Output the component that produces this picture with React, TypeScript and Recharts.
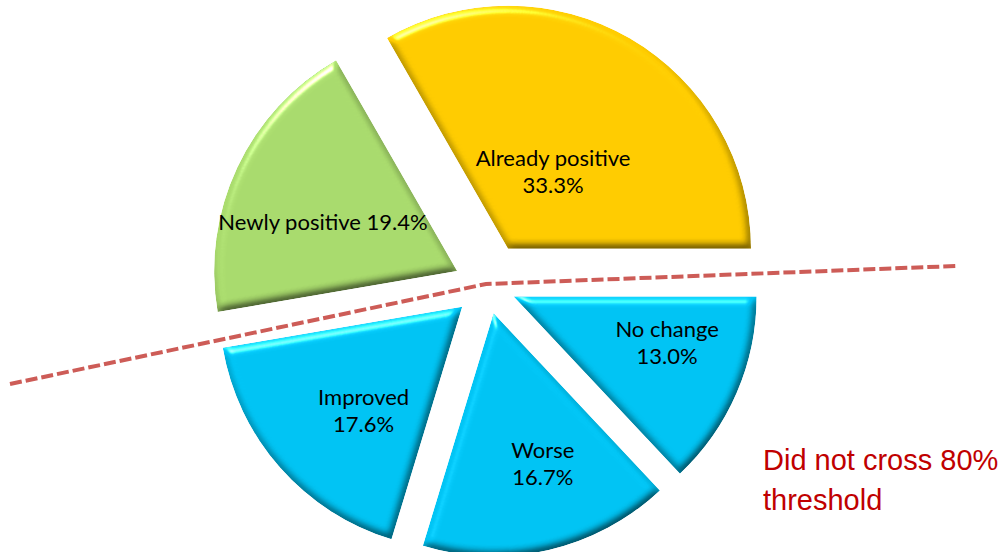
import React from 'react';
import { PieChart, Pie, Cell, Sector } from 'recharts';

// ---- data ----
const categories = ['Already positive', 'Newly positive', 'Improved', 'Worse', 'No change'];
const shares = [33.3, 19.4, 17.6, 16.7, 13.0];
const noteLines = ['Did not cross 80%', 'threshold'];

// ---- styling / layout config ----
const sliceColors = ['#FFCC00', '#A9DB6D', '#00C4F4', '#00C4F4', '#00C4F4'];
const explodeOffsets = [42, 33, 33, 29, 29];
const labelDistances = [90, 143, 143, 158, 160];
const labelAngleShift = [0, 5, 5, 5, 7];
const singleLineLabel = [false, true, false, false, false];

const data = categories.map((name, i) => ({ name, value: shares[i] }));

const RAD = Math.PI / 180;

const renderSlice = (props: any) => {
  const { cx, cy, startAngle, endAngle, outerRadius, midAngle, index } = props;
  const d = explodeOffsets[index];
  const ex = cx + d * Math.cos(-midAngle * RAD);
  const ey = cy + d * Math.sin(-midAngle * RAD);
  const la = midAngle + labelAngleShift[index];
  const ld = labelDistances[index];
  const lx = ex + ld * Math.cos(-la * RAD);
  const ly = ey + ld * Math.sin(-la * RAD);
  const name = categories[index];
  const pct = shares[index].toFixed(1) + '%';
  return (
    <g key={'slice-' + index}>
      <Sector
        cx={ex}
        cy={ey}
        innerRadius={0}
        outerRadius={outerRadius}
        startAngle={startAngle}
        endAngle={endAngle}
        fill={sliceColors[index]}
        stroke="none"
        filter="url(#bevel)"
      />
      {singleLineLabel[index] ? (
        <text x={lx} y={ly} textAnchor="middle" dominantBaseline="central" fontFamily="Lato, 'Open Sans', sans-serif" fontSize={22} fill="#000">
          {name + ' ' + pct}
        </text>
      ) : (
        <text textAnchor="middle" fontFamily="Lato, 'Open Sans', sans-serif" fontSize={22} fill="#000">
          <tspan x={lx} y={ly - 13.5} dominantBaseline="central">{name}</tspan>
          <tspan x={lx} y={ly + 13.5} dominantBaseline="central">{pct}</tspan>
        </text>
      )}
    </g>
  );
};

export default function App() {
  return (
    <div style={{ position: 'absolute', left: 0, top: 0, width: 1003, height: 552, background: '#fff' }}>
      <svg width={0} height={0} style={{ position: 'absolute' }}>
        <defs>
          <filter id="bevel" x="-10%" y="-10%" width="120%" height="120%" colorInterpolationFilters="sRGB">
            <feGaussianBlur in="SourceAlpha" stdDeviation="4" result="blur" />
            <feDiffuseLighting in="blur" surfaceScale="4" diffuseConstant="1.15" lightingColor="#ffffff" result="diff">
              <feDistantLight azimuth="245" elevation="60" />
            </feDiffuseLighting>
            <feComposite in="SourceGraphic" in2="diff" operator="arithmetic" k1="1" k2="0" k3="0" k4="0" result="shaded" />
            <feSpecularLighting in="blur" surfaceScale="5" specularConstant="0.9" specularExponent="40" lightingColor="#ffffff" result="spec">
              <feDistantLight azimuth="245" elevation="35" />
            </feSpecularLighting>
            <feComposite in="spec" in2="SourceAlpha" operator="in" result="specIn" />
            <feComposite in="shaded" in2="specIn" operator="arithmetic" k1="0" k2="1" k3="0.7" k4="0" result="lit" />
            <feComposite in="lit" in2="SourceAlpha" operator="in" />
          </filter>
        </defs>
      </svg>
      <PieChart width={1003} height={552} margin={{ top: 0, right: 0, bottom: 0, left: 0 }}>
        <Pie
          data={data}
          dataKey="value"
          nameKey="name"
          cx={487}
          cy={285}
          innerRadius={0}
          outerRadius={243}
          startAngle={0}
          endAngle={360}
          stroke="none"
          label={renderSlice}
          labelLine={false}
          isAnimationActive={false}
        >
          {data.map((entry, i) => (
            <Cell key={entry.name} fill="transparent" stroke="none" />
          ))}
        </Pie>
      </PieChart>
      <svg width={1003} height={552} style={{ position: 'absolute', left: 0, top: 0, pointerEvents: 'none' }}>
        <polyline points="10,384 486,284 956,266" fill="none" stroke="#CD5C57" strokeWidth={4} strokeDasharray="12 4" />
        <text fontFamily="'Liberation Sans', Arial, sans-serif" fontSize={29} fill="#C00000">
          <tspan x={763} y={470}>{noteLines[0]}</tspan>
          <tspan x={763} y={510}>{noteLines[1]}</tspan>
        </text>
      </svg>
    </div>
  );
}
